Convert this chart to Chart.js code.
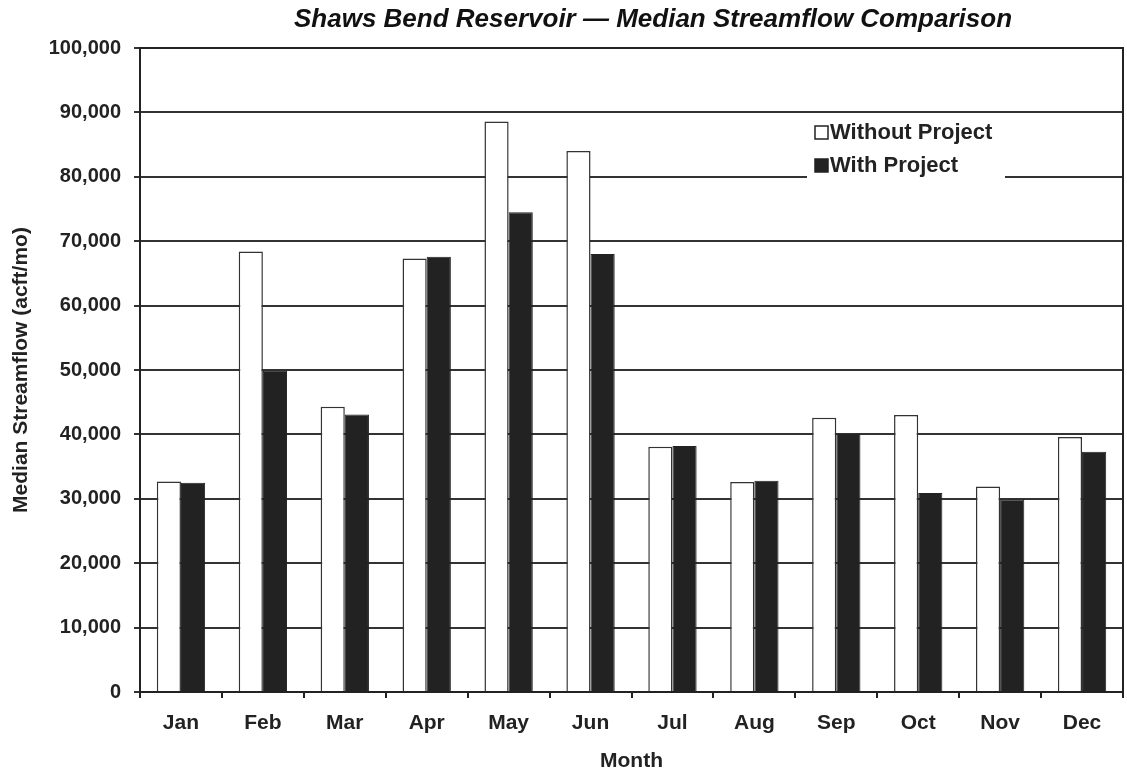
<!DOCTYPE html>
<html>
<head>
<meta charset="utf-8">
<script src="https://cdn.jsdelivr.net/npm/chart.js@4.4.1/dist/chart.umd.min.js"></script>
<style>
  html, body { margin: 0; padding: 0; background: #fff; }
  #wrap { width: 1127px; height: 776px; }
</style>
</head>
<body>
<div id="wrap"><canvas id="flowChart" width="1127" height="776"></canvas></div>
<script>
// Median streamflow, acre-feet per month
const months = ['Jan', 'Feb', 'Mar', 'Apr', 'May', 'Jun', 'Jul', 'Aug', 'Sep', 'Oct', 'Nov', 'Dec'];
const withoutProject = [32700, 68400, 44300, 67300, 88600, 84000, 38100, 32600, 42600, 43000, 31900, 39600];
const withProject = [32500, 49900, 43100, 67600, 74500, 68000, 38200, 32800, 40100, 30900, 29900, 37300];
const yMin = 0;
const yMax = 100000;
const yStep = 10000;

const chartTitle = 'Shaws Bend Reservoir \u2014 Median Streamflow Comparison';
const FONT = '"Liberation Sans", Arial, sans-serif';

// title, plot frame and in-plot legend
const decorations = {
  id: 'decorations',
  afterDraw(chart) {
    const ctx = chart.ctx;
    const area = chart.chartArea;
    ctx.save();

    // frame around the plot
    ctx.strokeStyle = '#222';
    ctx.lineWidth = 2;
    ctx.strokeRect(area.left, area.top, area.right - area.left, area.bottom - area.top);

    // title
    ctx.fillStyle = '#111';
    ctx.font = 'italic bold 26px ' + FONT;
    ctx.textAlign = 'center';
    ctx.textBaseline = 'alphabetic';
    ctx.fillText(chartTitle, 653, 27);

    // legend box inside the plot
    ctx.fillStyle = '#fff';
    ctx.fillRect(807, 116, 198, 68);
    ctx.font = 'bold 22px ' + FONT;
    ctx.textAlign = 'left';
    ctx.textBaseline = 'middle';
    chart.data.datasets.forEach((ds, i) => {
      const y = 132 + i * 33;
      ctx.fillStyle = ds.backgroundColor;
      ctx.strokeStyle = '#222';
      ctx.lineWidth = 1.5;
      ctx.fillRect(815, y - 6, 13, 13);
      ctx.strokeRect(815, y - 6, 13, 13);
      ctx.fillStyle = '#222';
      ctx.fillText(ds.label, 830, y + 1);
    });
    ctx.restore();
  }
};

const ctx = document.getElementById('flowChart').getContext('2d');
new Chart(ctx, {
  type: 'bar',
  data: {
    labels: months,
    datasets: [
      {
        label: 'Without Project',
        data: withoutProject,
        backgroundColor: '#ffffff',
        borderColor: '#333',
        borderWidth: 1.5,
        categoryPercentage: 0.59,
        barPercentage: 1.0
      },
      {
        label: 'With Project',
        data: withProject,
        backgroundColor: '#222222',
        borderColor: '#222',
        borderWidth: 1,
        categoryPercentage: 0.59,
        barPercentage: 1.0
      }
    ]
  },
  options: {
    responsive: false,
    animation: false,
    layout: { padding: { top: 48, right: 4, left: 0, bottom: 0 } },
    plugins: {
      legend: { display: false },
      title: { display: false },
      tooltip: { enabled: false }
    },
    scales: {
      x: {
        grid: {
          offset: true,
          drawOnChartArea: false,
          drawTicks: true,
          tickLength: 6,
          color: '#222',
          lineWidth: 2
        },
        border: { color: '#222', width: 2 },
        ticks: {
          color: '#222',
          font: { family: FONT, size: 21, weight: 'bold' },
          padding: 13
        },
        title: {
          display: true,
          text: 'Month',
          color: '#222',
          font: { family: FONT, size: 21, weight: 'bold' },
          padding: { top: 0, bottom: 2 }
        },
        afterFit(scale) { scale.height = 84; }
      },
      y: {
        min: yMin,
        max: yMax,
        ticks: {
          stepSize: yStep,
          color: '#222',
          font: { family: FONT, size: 20, weight: 'bold' },
          padding: 13,
          callback: v => v.toLocaleString('en-US')
        },
        grid: {
          color: '#333',
          lineWidth: 2,
          tickLength: 6
        },
        border: { color: '#222', width: 2 },
        title: {
          display: true,
          text: 'Median Streamflow (acft/mo)',
          color: '#222',
          font: { family: FONT, size: 21, weight: 'bold' },
          padding: { top: 9, bottom: 0 }
        },
        afterFit(scale) { scale.width = 140; }
      }
    }
  },
  plugins: [decorations]
});
</script>
</body>
</html>
